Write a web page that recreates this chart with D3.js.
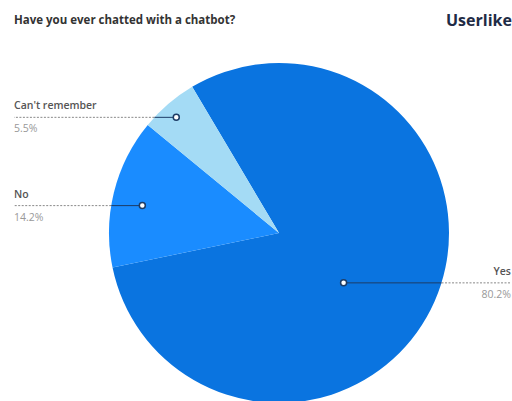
<!DOCTYPE html>
<html><head><meta charset="utf-8">
<script src="https://cdn.jsdelivr.net/npm/d3@7"></script>
<style>body{margin:0;background:#fff;font-family:"Open Sans",sans-serif;}</style>
</head><body><svg id="c" width="512" height="401"></svg>
<script>
const categories = ["Yes", "No", "Can't remember"];
const values = [80.2, 14.2, 5.5];
const labels = ["80.2%", "14.2%", "5.5%"];
const colors = ["#0a74e0", "#1a8cff", "#a4dbf5"];

const svg = d3.select("#c");
const W = 512, H = 401;
const cx = 279, cy = 233, R = 170;
const startA = -0.536;

svg.append("text").attr("x", 14).attr("y", 24)
  .attr("font-size", 11.5).attr("font-weight", 700).attr("fill", "#333")
  .text("Have you ever chatted with a chatbot?");

svg.append("text").attr("x", 446).attr("y", 26)
  .attr("font-size", 16).attr("font-weight", 700).attr("fill", "#1e2b45")
  .text("Userlike");

const pie = d3.pie().sort(null).value(d => d)
  .startAngle(startA).endAngle(startA + 2 * Math.PI);
const arcs = pie(values);
const arc = d3.arc().innerRadius(0).outerRadius(R);
const g = svg.append("g").attr("transform", `translate(${cx},${cy})`);
g.selectAll("path").data(arcs).enter().append("path")
  .attr("d", arc).attr("fill", (d, i) => colors[i]);

const markerT = [0.548, 0.45, 0.45];
const markerR = [0.48, 0.82, 0.91];
const side = [1, -1, -1];
arcs.forEach((a, i) => {
  const ang = a.startAngle + (a.endAngle - a.startAngle) * markerT[i];
  const r = R * markerR[i];
  const mx = cx + Math.sin(ang) * r, my = cy - Math.cos(ang) * r;
  const edgeDx = Math.sqrt(R * R - (my - cy) * (my - cy));
  const ex = side[i] > 0 ? cx + edgeDx : cx - edgeDx;
  const tx = side[i] > 0 ? W - 1 : 14;
  svg.append("line").attr("x1", mx).attr("y1", my).attr("x2", ex).attr("y2", my)
    .attr("stroke", "#1d3c66").attr("stroke-width", 1);
  svg.append("line").attr("x1", ex).attr("y1", my).attr("x2", tx).attr("y2", my)
    .attr("stroke", "#888").attr("stroke-width", 1).attr("stroke-dasharray", "2,1.5");
  svg.append("circle").attr("cx", mx).attr("cy", my).attr("r", 3)
    .attr("fill", "#fff").attr("stroke", "#1d3c66").attr("stroke-width", 1.5);
  const anchor = side[i] > 0 ? "end" : "start";
  svg.append("text").attr("x", tx).attr("y", my - 8)
    .attr("text-anchor", anchor).attr("font-size", 10.5).attr("font-weight", 600)
    .attr("fill", "#555").text(categories[i]);
  svg.append("text").attr("x", tx).attr("y", my + 15)
    .attr("text-anchor", anchor).attr("font-size", 10.5)
    .attr("fill", "#999").text(labels[i]);
});
</script></body></html>
